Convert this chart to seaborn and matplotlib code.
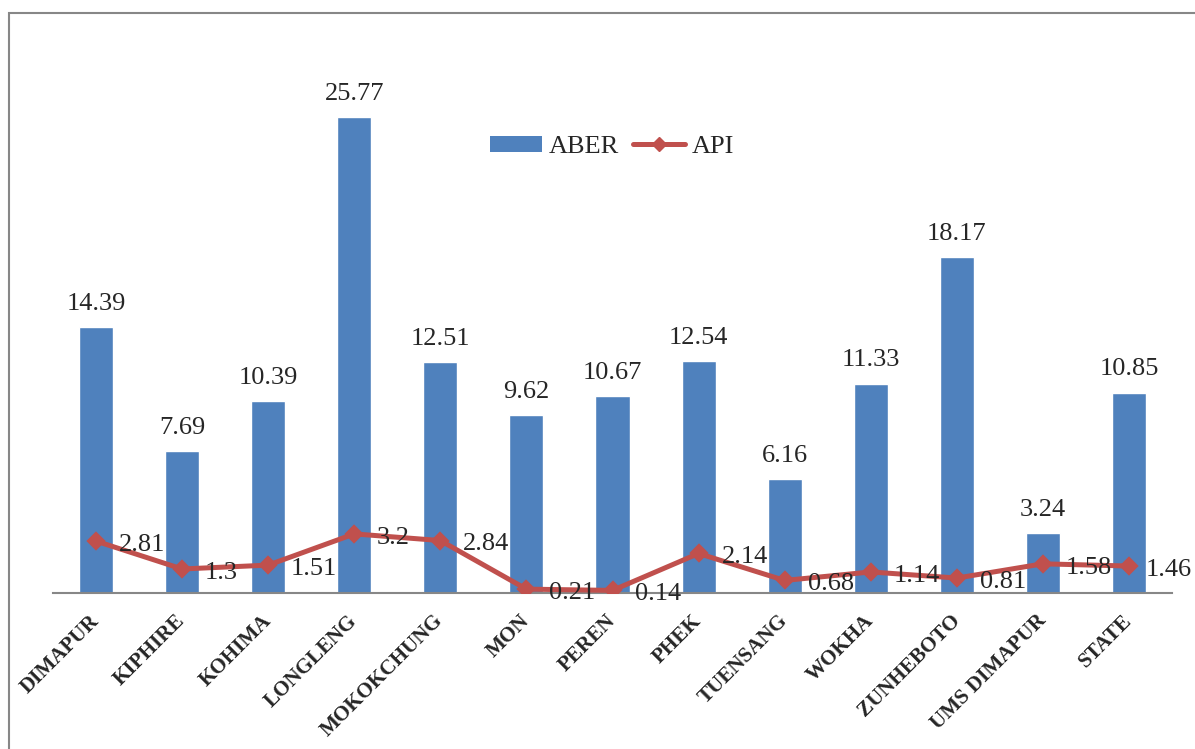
import matplotlib
matplotlib.use("Agg")
import matplotlib.pyplot as plt
from matplotlib.patches import Patch, Rectangle
from matplotlib.lines import Line2D
import seaborn as sns
import pandas as pd

districts = ["DIMAPUR", "KIPHIRE", "KOHIMA", "LONGLENG", "MOKOKCHUNG", "MON",
             "PEREN", "PHEK", "TUENSANG", "WOKHA", "ZUNHEBOTO", "UMS DIMAPUR", "STATE"]
aber = [14.39, 7.69, 10.39, 25.77, 12.51, 9.62, 10.67, 12.54, 6.16, 11.33, 18.17, 3.24, 10.85]
api = [2.81, 1.3, 1.51, 3.2, 2.84, 0.21, 0.14, 2.14, 0.68, 1.14, 0.81, 1.58, 1.46]

BLUE = "#4F81BD"
RED = "#C0504D"
GRAY = "#878787"

sns.set_style("white")
plt.rcParams["font.family"] = ["Liberation Serif", "DejaVu Serif"]

df = pd.DataFrame({"district": districts, "ABER": aber, "API": api})

fig = plt.figure(figsize=(11.95, 7.49), dpi=100)
W, H = 1195, 749
ax = fig.add_axes([53 / W, (H - 593) / H, (1172 - 53) / W, 554 / H])

sns.barplot(data=df, x="district", y="ABER", color=BLUE, width=0.395,
            saturation=1, ax=ax, zorder=2)
sns.pointplot(data=df, x="district", y="API", color=RED, markers="D",
              markersize=7, linewidth=3.6, ax=ax, zorder=3)

ax.set_ylim(0, 30)
ax.set_xlim(-0.5, len(districts) - 0.5)
ax.set_xlabel("")
ax.set_ylabel("")
ax.set_yticks([])
for side in ["top", "right", "left"]:
    ax.spines[side].set_visible(False)
ax.spines["bottom"].set_color(GRAY)
ax.spines["bottom"].set_linewidth(1.5)
ax.tick_params(axis="x", length=0, pad=18)
for lab in ax.get_xticklabels():
    lab.set_rotation(45)
    lab.set_ha("right")
    lab.set_va("center")
    lab.set_rotation_mode("anchor")
    lab.set_fontweight("bold")
    lab.set_fontsize(15.2)

# value labels for ABER bars (above) and API points (right)
for i, v in enumerate(aber):
    ax.annotate(f"{v:g}", (i, v), xytext=(0, 12.5), textcoords="offset points",
                ha="center", va="baseline", fontsize=19)
last = len(api) - 1
for i, v in enumerate(api):
    dx = 12 if i == last else 16.5
    ax.annotate(f"{v:g}", (i, v), xytext=(dx, -1), textcoords="offset points",
                ha="left", va="center_baseline", fontsize=19)

handles = [Patch(facecolor=BLUE, edgecolor="none"),
           Line2D([0], [0], color=RED, lw=3.6, marker="D", markersize=7)]
fig.legend(handles, ["ABER", "API"], loc="center", bbox_to_anchor=(612 / W, (H - 147) / H),
           ncol=2, frameon=False, fontsize=19, handlelength=2.0, handleheight=0.55,
           handletextpad=0.25, columnspacing=0.5)

# outer chart frame
fig.add_artist(Rectangle((8.5 / W, -0.2), 1.5, (H - 13) / H + 0.2, transform=fig.transFigure,
                         fill=False, edgecolor=GRAY, linewidth=1.5, clip_on=False))

fig.savefig("out.png", dpi=100)
